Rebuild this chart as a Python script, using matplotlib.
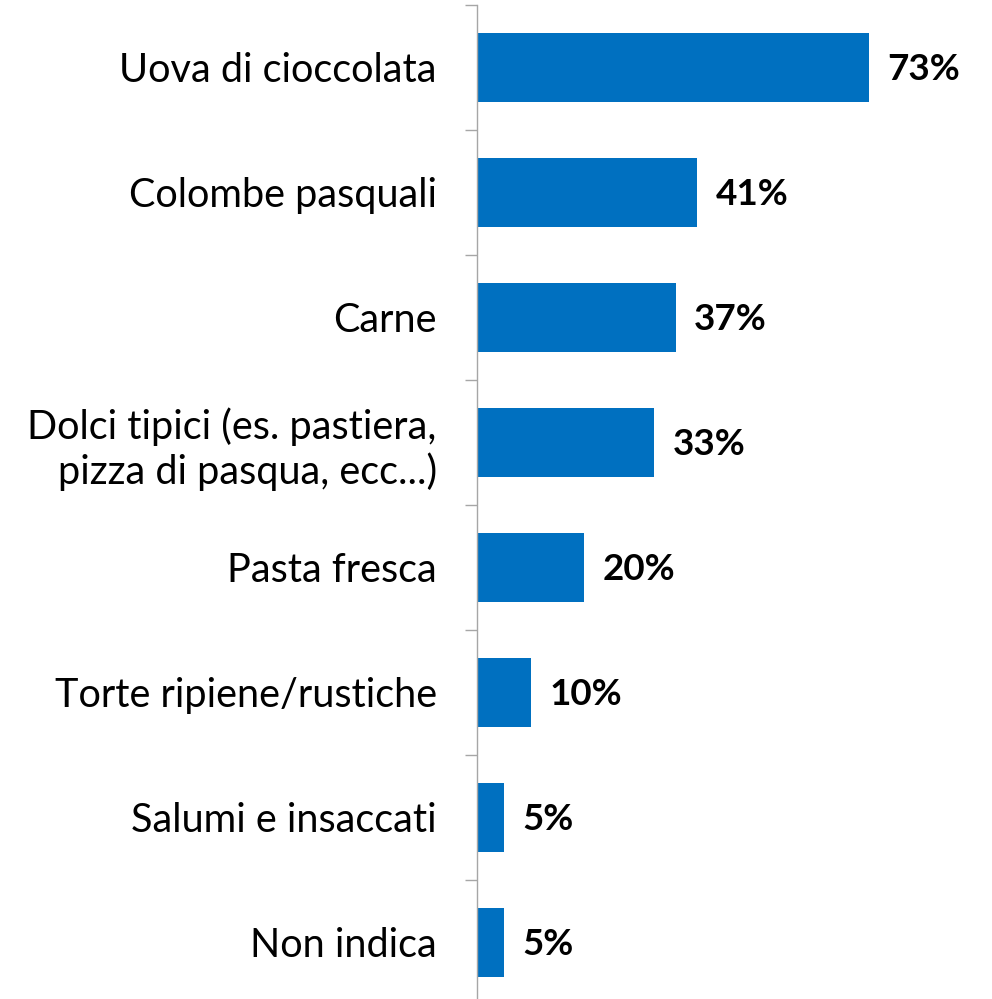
import matplotlib.pyplot as plt
from matplotlib.ticker import FixedLocator

plt.rcParams['font.family'] = ['Lato', 'DejaVu Sans']

categorie = ['Uova di cioccolata', 'Colombe pasquali', 'Carne',
             'Dolci tipici (es. pastiera,\npizza di pasqua, ecc...)',
             'Pasta fresca', 'Torte ripiene/rustiche',
             'Salumi e insaccati', 'Non indica']
valori = [73, 41, 37, 33, 20, 10, 5, 5]

fig = plt.figure(figsize=(9.92, 9.99), dpi=100)
ax = fig.add_axes([0.481, -0.006, 0.514, 1.001])

pos = list(range(len(categorie)))
bars = ax.barh(pos, valori, height=0.545, color='#0070C0')

ax.set_ylim(len(categorie) - 0.5, -0.5)
ax.set_xlim(0, 95)

ax.set_yticks(pos)
ax.set_yticklabels(categorie, fontsize=28.5, color='#000000', linespacing=1.2)
ax.yaxis.set_minor_locator(FixedLocator([p - 0.5 for p in pos] + [len(pos) - 0.5]))
ax.tick_params(axis='y', which='major', length=0, pad=29)
ax.tick_params(axis='y', which='minor', length=9, color='#A6A6A6', width=1)
for lab in ax.get_yticklabels():
    lab.set_horizontalalignment('right')

ax.set_xticks([])
for s in ['top', 'right', 'bottom']:
    ax.spines[s].set_visible(False)
ax.spines['left'].set_color('#A6A6A6')
ax.spines['left'].set_linewidth(1)

for b, v in zip(bars, valori):
    ax.text(b.get_width() + 3.4, b.get_y() + b.get_height() / 2 + 0.02, f'{v}%',
            va='center', ha='left', fontsize=26.5, fontweight='bold', color='#000000')

plt.savefig('out.png', dpi=100)
